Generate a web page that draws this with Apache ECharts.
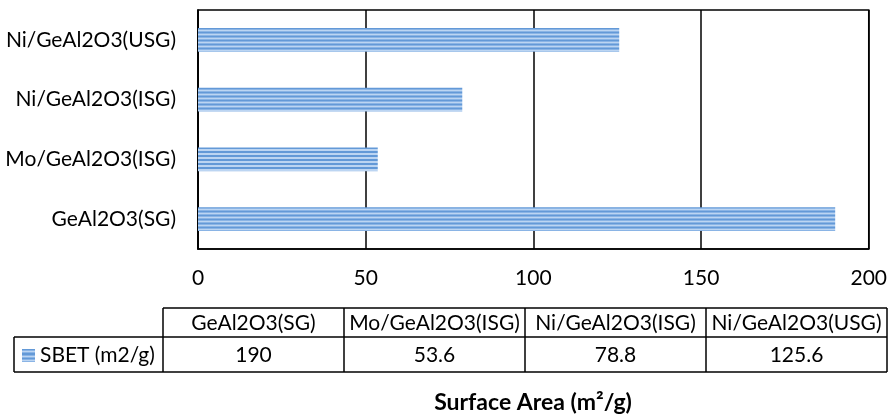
<!DOCTYPE html>
<html>
<head>
<meta charset="utf-8">
<script src="https://cdn.jsdelivr.net/npm/echarts@6/dist/echarts.min.js"></script>
<style>
html,body{margin:0;padding:0;background:#fff;}
#main{width:890px;height:416px;}
</style>
</head>
<body>
<div id="main"></div>
<script>
var categories = ['GeAl2O3(SG)', 'Mo/GeAl2O3(ISG)', 'Ni/GeAl2O3(ISG)', 'Ni/GeAl2O3(USG)'];
var sbetValues = [190, 53.6, 78.8, 125.6];
var seriesName = 'SBET (m2/g)';
var xTicks = [0, 50, 100, 150, 200];
var axisTitle = 'Surface Area (m\u00B2/g)';

var FONT = 'Lato';
var chart = echarts.init(document.getElementById('main'), null, {renderer: 'canvas'});

function stripes(n) {
  var stops = [];
  var dark = '#6399d7', mid = '#8ab4e5', light = '#bcd5f2';
  for (var i = 0; i < n; i++) {
    var a = i / n, s = 1 / n;
    stops.push({offset: a, color: dark});
    stops.push({offset: a + s * 0.3, color: dark});
    stops.push({offset: a + s * 0.3, color: mid});
    stops.push({offset: a + s * 0.5, color: mid});
    stops.push({offset: a + s * 0.5, color: light});
    stops.push({offset: a + s * 0.8, color: light});
    stops.push({offset: a + s * 0.8, color: mid});
    stops.push({offset: a + s, color: mid});
  }
  return new echarts.graphic.LinearGradient(0, 0, 0, 1, stops);
}

// table geometry
var tLeft = 14, tCol0 = 163, colW = 181, rTop = 308, rMid = 337, rBot = 372;
var tRight = tCol0 + colW * categories.length;
var lineStyle = {stroke: '#000', lineWidth: 1.5};
var g = [];
function line(x1, y1, x2, y2) {
  g.push({type: 'line', shape: {x1: x1, y1: y1, x2: x2, y2: y2}, style: lineStyle, silent: true});
}
line(tCol0, rTop, tRight, rTop);
line(tLeft, rMid, tRight, rMid);
line(tLeft, rBot, tRight, rBot);
line(tLeft, rMid, tLeft, rBot);
for (var i = 0; i <= categories.length; i++) {
  line(tCol0 + colW * i, rTop, tCol0 + colW * i, rBot);
}
categories.forEach(function (c, i) {
  var cx = tCol0 + colW * i + colW / 2;
  g.push({type: 'text', x: cx, y: (rTop + rMid) / 2 + 1, style: {text: c, fontFamily: FONT, fontSize: 21, fill: '#000', align: 'center', verticalAlign: 'middle'}, silent: true});
  g.push({type: 'text', x: cx, y: (rMid + rBot) / 2 + 1, style: {text: String(sbetValues[i]), fontFamily: FONT, fontSize: 21, fill: '#000', align: 'center', verticalAlign: 'middle'}, silent: true});
});
g.push({type: 'rect', shape: {x: 22, y: 349, width: 13, height: 13}, style: {fill: stripes(3)}, silent: true});
g.push({type: 'text', x: 40, y: (rMid + rBot) / 2 + 1, style: {text: seriesName, fontFamily: FONT, fontSize: 21, fill: '#000', align: 'left', verticalAlign: 'middle'}, silent: true});
g.push({type: 'text', x: 533, y: 403, style: {text: axisTitle, fontFamily: FONT, fontSize: 23, fontWeight: 'bold', fill: '#000', align: 'center', verticalAlign: 'middle'}, silent: true});

chart.setOption({
  animation: false,
  backgroundColor: '#fff',
  grid: {left: 198, right: 21, top: 10, bottom: 167, show: true, borderColor: '#000', borderWidth: 1.5, containLabel: false},
  xAxis: {
    type: 'value', min: xTicks[0], max: xTicks[xTicks.length - 1], interval: xTicks[1] - xTicks[0],
    axisLine: {show: true, lineStyle: {color: '#000', width: 1.5}},
    axisTick: {show: false},
    splitLine: {show: true, lineStyle: {color: '#000', width: 1.5}},
    axisLabel: {color: '#000', fontFamily: FONT, fontSize: 21, margin: 19}
  },
  yAxis: {
    type: 'category', data: categories,
    axisLine: {show: true, lineStyle: {color: '#000', width: 1.5}},
    axisTick: {show: false},
    axisLabel: {color: '#000', fontFamily: FONT, fontSize: 21, margin: 22}
  },
  series: [{
    name: seriesName, type: 'bar', data: sbetValues, barCategoryGap: '60%',
    itemStyle: {color: stripes(6)}
  }],
  graphic: g
});
</script>
</body>
</html>
